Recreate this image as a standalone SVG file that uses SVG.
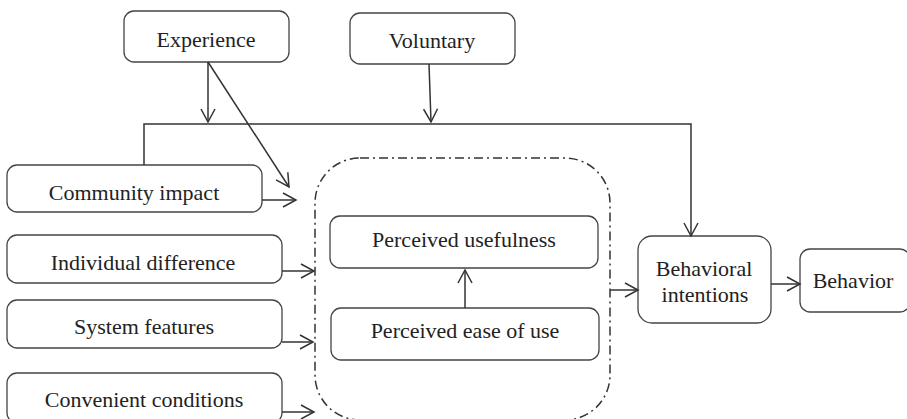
<svg xmlns="http://www.w3.org/2000/svg" width="907" height="419" viewBox="0 0 907 419">
<style>
.box{fill:#fff;stroke:#444;stroke-width:1.3}
.t{font-family:"Liberation Serif","Times New Roman",serif;font-size:22px;fill:#222;text-anchor:middle}
.c{fill:none;stroke:#333;stroke-width:1.5}
.dash{fill:none;stroke:#333;stroke-width:1.5;stroke-dasharray:9 4 2 4}
</style>
<defs>
<marker id="arr" markerUnits="userSpaceOnUse" viewBox="0 0 16 16" markerWidth="16" markerHeight="16" refX="14" refY="8" orient="auto">
<path d="M1,1 L14,8 L1,15" fill="none" stroke="#333" stroke-width="1.5"/>
</marker>
</defs>
<rect width="907" height="419" fill="#fff"/>
<g id="container">
<rect class="dash" x="315" y="158" width="295" height="262" rx="45" ry="45"/>
</g>
<g id="experience"><rect class="box" x="124" y="11" width="165" height="51" rx="10"/><text class="t" x="206" y="47">Experience</text></g>
<g id="voluntary"><rect class="box" x="350" y="13" width="165" height="51" rx="10"/><text class="t" x="432" y="48">Voluntary</text></g>
<g id="community"><rect class="box" x="7" y="165" width="255" height="47" rx="10"/><text class="t" x="134" y="200">Community impact</text></g>
<g id="individual"><rect class="box" x="7" y="235" width="275" height="48" rx="10"/><text class="t" x="143" y="270">Individual difference</text></g>
<g id="system"><rect class="box" x="7" y="300" width="275" height="48" rx="10"/><text class="t" x="144" y="334">System features</text></g>
<g id="convenient"><rect class="box" x="7" y="373" width="275" height="50" rx="10"/><text class="t" x="144" y="407">Convenient conditions</text></g>
<g id="usefulness"><rect class="box" x="330" y="216" width="268" height="52" rx="10"/><text class="t" x="464" y="247">Perceived usefulness</text></g>
<g id="ease"><rect class="box" x="331" y="308" width="268" height="52" rx="10"/><text class="t" x="465" y="338">Perceived ease of use</text></g>
<g id="intentions"><rect class="box" x="638" y="236" width="133" height="87" rx="14"/><text class="t" x="704" y="276">Behavioral</text><text class="t" x="705" y="302">intentions</text></g>
<g id="behavior"><rect class="box" x="800" y="249" width="110" height="63" rx="10"/><text class="t" x="853" y="288">Behavior</text></g>
<g id="connectors">
<path class="c" d="M208,62 V122" marker-end="url(#arr)"/>
<path class="c" d="M208,62 L289,187" marker-end="url(#arr)"/>
<path class="c" d="M429,64 L431,122" marker-end="url(#arr)"/>
<path class="c" d="M144,165 V124 H691 V236" marker-end="url(#arr)"/>
<path class="c" d="M262,200 H296" marker-end="url(#arr)"/>
<path class="c" d="M282,271 H314" marker-end="url(#arr)"/>
<path class="c" d="M282,342 H313" marker-end="url(#arr)"/>
<path class="c" d="M282,412 H314" marker-end="url(#arr)"/>
<path class="c" d="M465,308 V270" marker-end="url(#arr)"/>
<path class="c" d="M610,290 H638" marker-end="url(#arr)"/>
<path class="c" d="M771,284 H800" marker-end="url(#arr)"/>
</g>
</svg>
